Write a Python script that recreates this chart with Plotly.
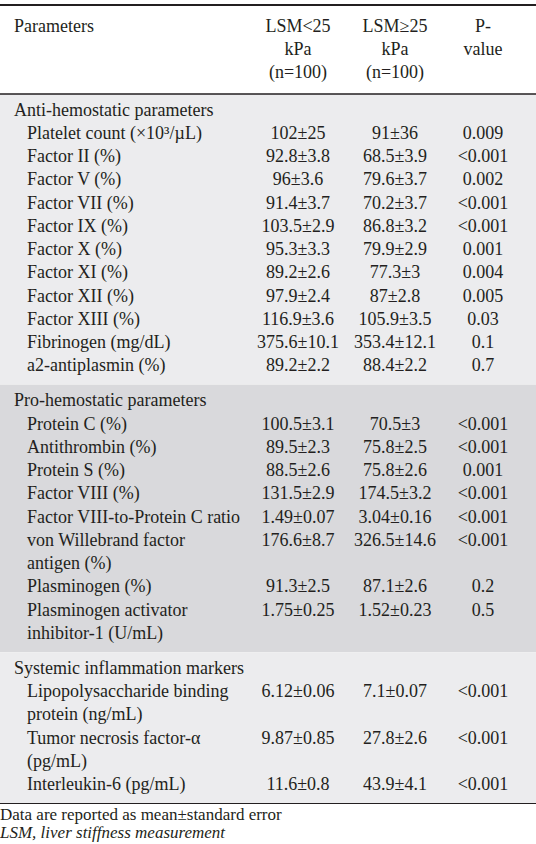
import plotly.graph_objects as go

# ---------------- data ----------------
header_cols = ["Parameters", "LSM<25<br>kPa<br>(n=100)", "LSM≥25<br>kPa<br>(n=100)", "P-<br>value"]

sections = ["Anti-hemostatic parameters", "Pro-hemostatic parameters", "Systemic inflammation markers"]

row_section = [0] * 11 + [1] * 8 + [2] * 3

parameters = [
    "Platelet count (×10³/µL)",
    "Factor II (%)",
    "Factor V (%)",
    "Factor VII (%)",
    "Factor IX (%)",
    "Factor X (%)",
    "Factor XI (%)",
    "Factor XII (%)",
    "Factor XIII (%)",
    "Fibrinogen (mg/dL)",
    "a2-antiplasmin (%)",
    "Protein C (%)",
    "Antithrombin (%)",
    "Protein S (%)",
    "Factor VIII (%)",
    "Factor VIII-to-Protein C ratio",
    "von Willebrand factor<br>antigen (%)",
    "Plasminogen (%)",
    "Plasminogen activator<br>inhibitor-1 (U/mL)",
    "Lipopolysaccharide binding<br>protein (ng/mL)",
    "Tumor necrosis factor-α<br>(pg/mL)",
    "Interleukin-6 (pg/mL)",
]

lsm_lt25 = ["102±25", "92.8±3.8", "96±3.6", "91.4±3.7", "103.5±2.9", "95.3±3.3", "89.2±2.6",
            "97.9±2.4", "116.9±3.6", "375.6±10.1", "89.2±2.2",
            "100.5±3.1", "89.5±2.3", "88.5±2.6", "131.5±2.9", "1.49±0.07", "176.6±8.7",
            "91.3±2.5", "1.75±0.25",
            "6.12±0.06", "9.87±0.85", "11.6±0.8"]

lsm_ge25 = ["91±36", "68.5±3.9", "79.6±3.7", "70.2±3.7", "86.8±3.2", "79.9±2.9", "77.3±3",
            "87±2.8", "105.9±3.5", "353.4±12.1", "88.4±2.2",
            "70.5±3", "75.8±2.5", "75.8±2.6", "174.5±3.2", "3.04±0.16", "326.5±14.6",
            "87.1±2.6", "1.52±0.23",
            "7.1±0.07", "27.8±2.6", "43.9±4.1"]

p_values = ["0.009", "<0.001", "0.002", "<0.001", "<0.001", "0.001", "0.004", "0.005", "0.03",
            "0.1", "0.7",
            "<0.001", "<0.001", "0.001", "<0.001", "<0.001", "<0.001", "0.2", "0.5",
            "<0.001", "<0.001", "<0.001"]

footnotes = ["Data are reported as mean±standard error", "<i>LSM, liver stiffness measurement</i>"]

# ---------------- layout constants ----------------
W, H = 536, 844
FONT = "Liberation Serif, Times New Roman, serif"
TXT = "#231f20"
BODY = 18
LH = 23.25
col_x = [14, 298, 395, 483]
indent_x = 27
header_top_line = 27
top_rule_y = 5
header_line_y = 94
pad_top, pad_bottom = 17, 18
sec_fill = ["#ececee", "#d9d9dc", "#ececee"]

# compute positions
label_x, label_y, label_t = [], [], []
val_y = []
shapes = []
y_top = header_line_y
sec_bounds = []
for s, name in enumerate(sections):
    y = y_top + pad_top
    label_x.append(col_x[0]); label_y.append(y); label_t.append(name)
    y += LH
    for i, sec in enumerate(row_section):
        if sec != s:
            continue
        lines = parameters[i].split("<br>")
        val_y.append(y)
        for ln in lines:
            label_x.append(indent_x); label_y.append(y); label_t.append(ln)
            y += LH
    y_bot = y - LH + pad_bottom
    sec_bounds.append((y_top, y_bot))
    y_top = y_bot

for s, (a, b) in enumerate(sec_bounds):
    shapes.append(dict(type="rect", xref="x", yref="y", x0=0, x1=W, y0=a, y1=b,
                       fillcolor=sec_fill[s], line_width=0, layer="below"))

table_bottom = sec_bounds[-1][1]
shapes.append(dict(type="line", xref="x", yref="y", x0=0, x1=W, y0=top_rule_y, y1=top_rule_y,
                   line=dict(color=TXT, width=2)))
shapes.append(dict(type="line", xref="x", yref="y", x0=0, x1=W, y0=header_line_y, y1=header_line_y,
                   line=dict(color=TXT, width=1.6)))
shapes.append(dict(type="line", xref="x", yref="y", x0=0, x1=W, y0=table_bottom, y1=table_bottom,
                   line=dict(color=TXT, width=1.2)))

fig = go.Figure()

# header
for c, h in enumerate(header_cols):
    lines = h.split("<br>")
    ys = [header_top_line + k * 23 for k in range(len(lines))]
    fig.add_trace(go.Scatter(
        x=[col_x[c]] * len(lines), y=ys, text=lines, mode="text",
        textposition="middle right" if c == 0 else "middle center",
        textfont=dict(family=FONT, size=BODY, color=TXT),
        cliponaxis=False, hoverinfo="skip", showlegend=False))

# labels
fig.add_trace(go.Scatter(
    x=label_x, y=label_y, text=label_t, mode="text", textposition="middle right",
    textfont=dict(family=FONT, size=BODY, color=TXT),
    cliponaxis=False, hoverinfo="skip", showlegend=False))

# values
for c, col in zip([1, 2, 3], [lsm_lt25, lsm_ge25, p_values]):
    fig.add_trace(go.Scatter(
        x=[col_x[c]] * len(col), y=val_y, text=col, mode="text", textposition="middle center",
        textfont=dict(family=FONT, size=BODY, color=TXT),
        cliponaxis=False, hoverinfo="skip", showlegend=False))

# footnotes
fig.add_trace(go.Scatter(
    x=[0, 0], y=[table_bottom + 12, table_bottom + 30], text=footnotes, mode="text",
    textposition="middle right",
    textfont=dict(family=FONT, size=17, color=TXT),
    cliponaxis=False, hoverinfo="skip", showlegend=False))

fig.update_layout(
    width=W, height=H, margin=dict(l=0, r=0, t=0, b=0),
    paper_bgcolor="white", plot_bgcolor="white",
    xaxis=dict(range=[0, W], visible=False, fixedrange=True),
    yaxis=dict(range=[H, 0], visible=False, fixedrange=True),
    shapes=shapes,
)

fig.write_html("out.html", config={"displayModeBar": False},
               post_script="document.body.style.margin='0';document.body.style.overflow='hidden';")
